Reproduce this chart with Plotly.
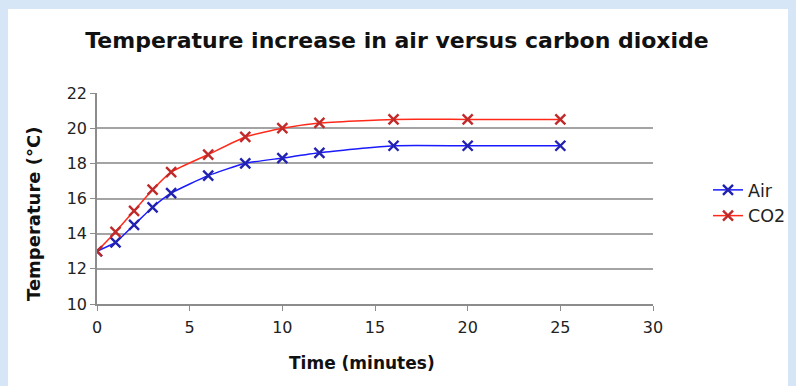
import plotly.graph_objects as go

time_min = [0, 1, 2, 3, 4, 6, 8, 10, 12, 16, 20, 25]
air_temp = [13.0, 13.5, 14.5, 15.5, 16.3, 17.3, 18.0, 18.3, 18.6, 19.0, 19.0, 19.0]
co2_temp = [13.0, 14.1, 15.3, 16.5, 17.5, 18.5, 19.5, 20.0, 20.3, 20.5, 20.5, 20.5]
x_ticks = [0, 5, 10, 15, 20, 25, 30]
y_ticks = [10, 12, 14, 16, 18, 20, 22]

# the page body keeps its default 8px margin; the figure starts at (8, 8)
OFF = 8
W, H = 796 - OFF, 386 - OFF
L, T = 97 - OFF, 93 - OFF
R = W - (653 - OFF)
B = H - (304 - OFF)
pw, ph = W - L - R, H - T - B

def px(sx):
    return (sx - OFF - L) / pw

def py(sy):
    return (H - B - (sy - OFF)) / ph

fig = go.Figure()
fig.add_trace(go.Scatter(
    x=time_min, y=air_temp, name="Air", mode="lines+markers",
    line=dict(color="#1a1aff", width=1.5, shape="spline", smoothing=0.5),
    marker=dict(symbol="x-thin", size=10, line=dict(color="#2222b0", width=2.4)),
))
fig.add_trace(go.Scatter(
    x=time_min, y=co2_temp, name="CO2", mode="lines+markers",
    line=dict(color="#ff2a1a", width=1.5, shape="spline", smoothing=0.5),
    marker=dict(symbol="x-thin", size=10, line=dict(color="#c02a2a", width=2.4)),
))

blue = "#d6e6f6"
fig.add_shape(type="rect", xref="paper", yref="paper", x0=px(OFF), x1=px(800), y0=py(9), y1=py(OFF),
              fillcolor=blue, line_width=0, layer="below")

fig.add_annotation(text="<b>Time (minutes)</b>", xref="paper", yref="paper",
                   x=px(362), y=py(363), showarrow=False, xanchor="center", yanchor="middle",
                   font=dict(size=17, color="#111111", family="DejaVu Sans"))
fig.add_annotation(text="<b>Temperature (°C)</b>", xref="paper", yref="paper",
                   x=px(33), y=py(214), showarrow=False, xanchor="center", yanchor="middle",
                   textangle=-90,
                   font=dict(size=18, color="#111111", family="DejaVu Sans"))

fig.update_layout(
    width=W, height=H,
    margin=dict(l=L, r=R, t=T, b=B, autoexpand=False),
    paper_bgcolor="white", plot_bgcolor="white",
    font=dict(family="DejaVu Sans", color="#222222"),
    title=dict(text="<b>Temperature increase in air versus carbon dioxide</b>",
               x=(397 - OFF) / W, xref="container", y=1 - (40 - OFF) / H, yref="container",
               yanchor="middle", xanchor="center",
               font=dict(size=22, color="#111111", family="DejaVu Sans")),
    showlegend=True,
    legend=dict(x=px(708), y=py(172), xanchor="left", yanchor="top",
                font=dict(size=17.5, color="#222222"), bgcolor="rgba(0,0,0,0)",
                tracegroupgap=0, itemwidth=30),
)
fig.update_xaxes(
    range=[0, 30], tickvals=x_ticks, ticktext=[str(v) for v in x_ticks],
    showgrid=False, showline=True, linecolor="#8c8c8c", linewidth=1.5,
    ticks="outside", ticklen=5, tickcolor="#8c8c8c",
    tickfont=dict(size=16, color="#222222"), ticklabelstandoff=3,
    zeroline=False,
)
fig.update_yaxes(
    range=[10, 22], tickvals=y_ticks, ticktext=[str(v) for v in y_ticks],
    showgrid=True, gridcolor="#a4a4a4", gridwidth=1.5,
    showline=True, linecolor="#8c8c8c", linewidth=1.5,
    ticks="outside", ticklen=5, tickcolor="#8c8c8c",
    tickfont=dict(size=16, color="#222222"),
    zeroline=False,
)

fig.write_html("out.html",
               post_script="document.body.style.backgroundColor='%s';document.documentElement.style.backgroundColor='%s';" % (blue, blue))
